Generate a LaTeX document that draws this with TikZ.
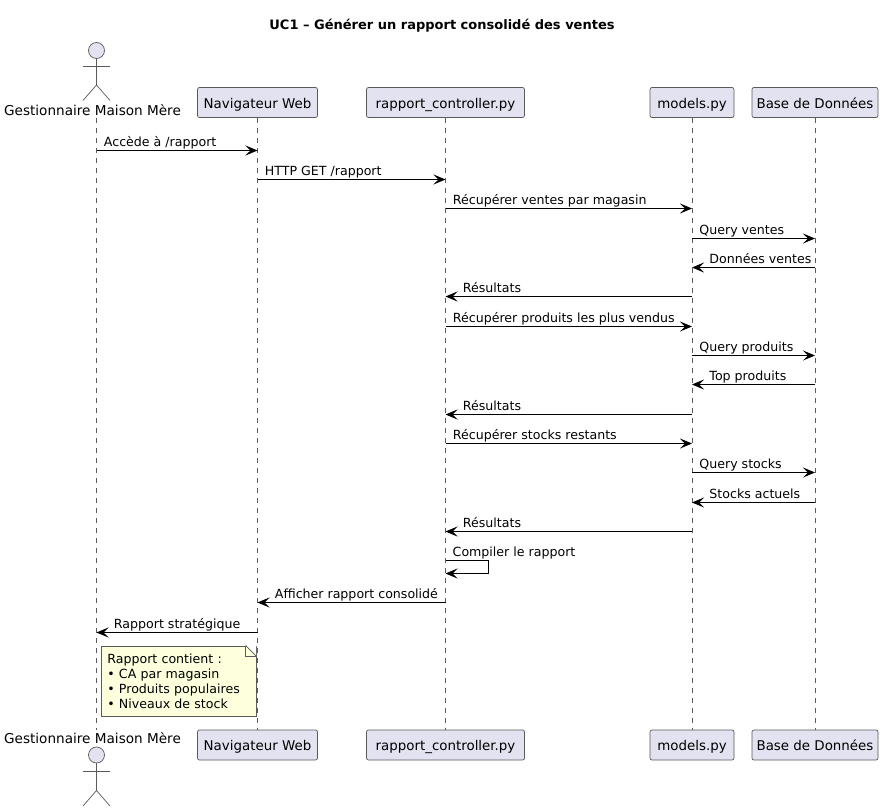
\documentclass[tikz,border=0pt]{standalone}
\usepackage{fontspec}
\setmainfont{DejaVu Sans}
\usetikzlibrary{arrows.meta}
\definecolor{partfill}{HTML}{E2E2F0}
\definecolor{partline}{HTML}{5A5A5A}
\definecolor{notefill}{HTML}{FEFFDD}
\begin{document}
\begin{tikzpicture}[x=1pt,y=-1pt,>={Stealth[length=12pt,width=10pt,inset=5pt]},
		part/.style={draw=partline,line width=0.7pt,fill=partfill,rounded corners=2pt,minimum height=30pt,inner sep=0pt,text height=14pt,text depth=3pt,font=\fontsize{13.4}{15}\selectfont},
		actorlabel/.style={inner sep=0pt,anchor=base,font=\fontsize{13.6}{15}\selectfont},
		head/.style={circle,draw=partline,line width=0.7pt,fill=partfill,minimum size=16pt,inner sep=0pt},
		limb/.style={draw=partline,line width=0.7pt},
		life/.style={draw=partline,line width=0.6pt,dash pattern=on 5pt off 5pt},
		msg/.style={->,line width=0.9pt,black},
		lbl/.style={inner sep=0pt,anchor=base west,yshift=4.5pt,font=\fontsize{12.6}{14}\selectfont},
		notebody/.style={draw=partline,line width=0.7pt,fill=notefill,anchor=north west,align=left,inner xsep=6pt,inner ysep=7.6pt,text width=142.5pt,font=\fontsize{12.6}{15.3}\selectfont}]
		\useasboundingbox (0,0) rectangle (886,811);
		\node[anchor=base,font=\bfseries\fontsize{13}{15}\selectfont,inner sep=0pt] (title) at (442,29) {UC1 – Générer un rapport consolidé des ventes};
		
		\node[part,minimum width=120pt] (nav) at (257.5,102.5) {Navigateur Web};
		\node[part,minimum width=158pt] (rap) at (445.5,102.5) {rapport\_controller.py};
		\node[part,minimum width=84pt] (mod) at (692,102.5) {models.py};
		\node[part,minimum width=126pt] (bdd) at (815,102.5) {Base de Données};
		\node[part,minimum width=120pt] (navb) at (257.5,745) {Navigateur Web};
		\node[part,minimum width=158pt] (rapb) at (445.5,745) {rapport\_controller.py};
		\node[part,minimum width=84pt] (modb) at (692,745) {models.py};
		\node[part,minimum width=126pt] (bddb) at (815,745) {Base de Données};
		
		\node[actorlabel] (ges) at (92.5,115.7) {Gestionnaire Maison Mère};
		\node[actorlabel] (gesb) at (92.5,743) {Gestionnaire Maison Mère};
		\coordinate (gestop) at (96.5,118);
		\coordinate (gesbot) at (96.5,730);
		
		\node[head] (headt) at (96.5,50.5) {};
		\coordinate (hipt) at (96.5,85);
		\coordinate (armtl) at (83,66);
		\coordinate (armtr) at (110,66);
		\coordinate (legtl) at (83,100.5);
		\coordinate (legtr) at (110,100.5);
		\draw[limb] (headt) -- (hipt);
		\draw[limb] (armtl) -- (armtr);
		\draw[limb] (legtl) -- (hipt) -- (legtr);
		
		\node[head] (headb) at (96.5,755) {};
		\coordinate (hipb) at (96.5,790.5);
		\coordinate (armbl) at (83,771);
		\coordinate (armbr) at (110,771);
		\coordinate (legbl) at (83,806);
		\coordinate (legbr) at (110,806);
		\draw[limb] (headb) -- (hipb);
		\draw[limb] (armbl) -- (armbr);
		\draw[limb] (legbl) -- (hipb) -- (legbr);
		
		\draw[life] (gestop) -- (gesbot);
		\draw[life] (nav.south) -- (navb.north);
		\draw[life] (rap.south) -- (rapb.north);
		\draw[life] (mod.south) -- (modb.north);
		\draw[life] (bdd.south) -- (bddb.north);
		
		\coordinate (m1) at (0,150.5);
		\coordinate (m2) at (0,179.5);
		\coordinate (m3) at (0,208.5);
		\coordinate (m4) at (0,238.5);
		\coordinate (m5) at (0,267.5);
		\coordinate (m6) at (0,296.5);
		\coordinate (m7) at (0,326.5);
		\coordinate (m8) at (0,355.5);
		\coordinate (m9) at (0,384.5);
		\coordinate (m10) at (0,414.5);
		\coordinate (m11) at (0,443.5);
		\coordinate (m12) at (0,472.5);
		\coordinate (m13) at (0,502.5);
		\coordinate (m14) at (0,531.5);
		\coordinate (m15) at (0,560.5);
		\coordinate (m16) at (0,573.5);
		\coordinate (m17) at (0,602.5);
		\coordinate (m18) at (0,632.5);
		
		\draw[msg] (gestop |- m1) -- (nav |- m1) node[lbl,pos=0,xshift=7pt] {Accède à /rapport};
		\draw[msg] (nav |- m2) -- (rap |- m2) node[lbl,pos=0,xshift=7pt] {HTTP GET /rapport};
		\draw[msg] (rap |- m3) -- (mod |- m3) node[lbl,pos=0,xshift=7pt] {Récupérer ventes par magasin};
		\draw[msg] (mod |- m4) -- (bdd |- m4) node[lbl,pos=0,xshift=7pt] {Query ventes};
		\draw[msg] (bdd |- m5) -- (mod |- m5) node[lbl,pos=1,xshift=17pt] {Données ventes};
		\draw[msg] (mod |- m6) -- (rap |- m6) node[lbl,pos=1,xshift=17pt] {Résultats};
		\draw[msg] (rap |- m7) -- (mod |- m7) node[lbl,pos=0,xshift=7pt] {Récupérer produits les plus vendus};
		\draw[msg] (mod |- m8) -- (bdd |- m8) node[lbl,pos=0,xshift=7pt] {Query produits};
		\draw[msg] (bdd |- m9) -- (mod |- m9) node[lbl,pos=1,xshift=17pt] {Top produits};
		\draw[msg] (mod |- m10) -- (rap |- m10) node[lbl,pos=1,xshift=17pt] {Résultats};
		\draw[msg] (rap |- m11) -- (mod |- m11) node[lbl,pos=0,xshift=7pt] {Récupérer stocks restants};
		\draw[msg] (mod |- m12) -- (bdd |- m12) node[lbl,pos=0,xshift=7pt] {Query stocks};
		\draw[msg] (bdd |- m13) -- (mod |- m13) node[lbl,pos=1,xshift=17pt] {Stocks actuels};
		\draw[msg] (mod |- m14) -- (rap |- m14) node[lbl,pos=1,xshift=17pt] {Résultats};
		\draw[msg] (rap |- m15) -- ++(43,0) -- ++(0,13) -- (rap |- m16);
		\node[lbl] (selflbl) at ([xshift=7pt]rap |- m15) {Compiler le rapport};
		\draw[msg] (rap |- m17) -- (nav |- m17) node[lbl,pos=1,xshift=17pt] {Afficher rapport consolidé};
		\draw[msg] (nav |- m18) -- (gestop |- m18) node[lbl,pos=1,xshift=17pt] {Rapport stratégique};
		
		\node[notebody] (note) at (101,645.5) {Rapport contient :\\• CA par magasin\\• Produits populaires\\• Niveaux de stock};
		\coordinate (foldt) at ([xshift=-10.5pt]note.north east);
		\coordinate (foldr) at ([yshift=-10.5pt]note.north east);
		\fill[white] (foldt) -- (note.north east) -- (foldr) -- cycle;
		\draw[limb,line join=round] (foldt) -- (foldr);
		\draw[limb] (foldt) -- (foldt |- foldr) -- (foldr);
	\end{tikzpicture}
\end{document}
